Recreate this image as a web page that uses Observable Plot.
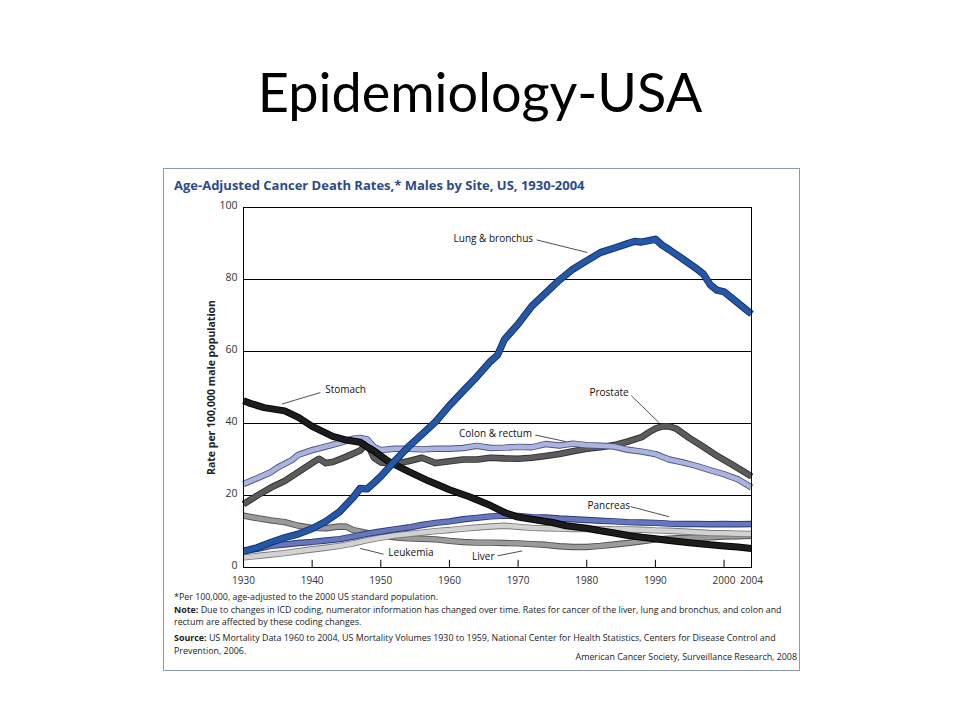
<!DOCTYPE html>
<html><head><meta charset="utf-8">
<script src="https://cdn.jsdelivr.net/npm/d3@7"></script>
<script src="https://cdn.jsdelivr.net/npm/@observablehq/plot@0.6"></script>
<style>
body{margin:0;background:#fff;width:960px;height:720px;position:relative;overflow:hidden;font-family:"Open Sans",sans-serif}
#slideTitle{position:absolute;left:0;width:960px;top:60px;text-align:center;font-family:Lato,sans-serif;font-size:54px;line-height:64px;color:#000}
#box{position:absolute;left:163px;top:168px;width:637px;height:503px;border:1px solid #8c9ab6;box-sizing:border-box}
#chartTitle{position:absolute;left:174px;top:176px;font-family:"Open Sans",sans-serif;font-weight:bold;font-size:13px;color:#2b4b8c;white-space:nowrap}
#chart{position:absolute;left:163px;top:197px}
#chart svg [aria-label="y-axis label"]{font-weight:bold;fill:#222}
.fn{position:absolute;left:174px;font-family:"Open Sans",sans-serif;font-size:8.9px;color:#222;white-space:nowrap;line-height:12px}
.fn b{font-weight:bold}
</style>
</head><body>
<div id="slideTitle">Epidemiology-USA</div>
<div id="box"></div>
<div id="chartTitle">Age-Adjusted Cancer Death Rates,* Males by Site, US, 1930-2004</div>
<div id="chart"></div>
<div class="fn" style="top:591px">*Per 100,000, age-adjusted to the 2000 US standard population.</div>
<div class="fn" style="top:604px"><b>Note:</b> Due to changes in ICD coding, numerator information has changed over time. Rates for cancer of the liver, lung and bronchus, and colon and</div>
<div class="fn" style="top:616px">rectum are affected by these coding changes.</div>
<div class="fn" style="top:632px"><b>Source:</b> US Mortality Data 1960 to 2004, US Mortality Volumes 1930 to 1959, National Center for Health Statistics, Centers for Disease Control and</div>
<div class="fn" style="top:645px">Prevention, 2006.</div>
<div class="fn" style="top:651px;left:auto;right:163px">American Cancer Society, Surveillance Research, 2008</div>
<script>
// ---- data ----
const xTicks = [1930, 1940, 1950, 1960, 1970, 1980, 1990, 2000, 2004];
const yTicks = [0, 20, 40, 60, 80, 100];
const yLabel = "Rate per 100,000 male population";

const lungYears = [1930,1932,1934,1936,1938,1940,1942,1944,1946,1947,1948,1949,1950,1952,1954,1956,1958,1960,1962,1964,1966,1967,1968,1970,1972,1974,1976,1978,1980,1982,1984,1986,1987,1988,1990,1991,1992,1994,1996,1997,1998,1999,2000,2002,2004];
const lungRates = [4.5,5.5,7.0,8.3,9.3,10.8,12.8,15.5,19.5,22.0,21.8,23.5,25.3,29.5,33.5,37.0,40.5,45.0,49.0,53.0,57.3,59.0,63.3,67.6,72.6,76.2,79.8,82.9,85.2,87.5,88.7,90.0,90.6,90.4,91.2,89.5,88.3,85.7,83.0,81.5,78.5,77.0,76.6,73.5,70.4];

const stomachYears = [1930,1931,1933,1936,1938,1940,1943,1945,1947,1948,1949,1951,1954,1957,1960,1963,1966,1968,1970,1972,1975,1977,1980,1982,1984,1986,1988,1990,1992,1995,1998,2000,2002,2004];
const stomachRates = [46.3,45.6,44.4,43.5,41.7,39.2,36.4,35.4,34.8,33.5,32.4,29.6,26.7,24.0,21.6,19.6,17.2,15.3,14.0,13.4,12.5,11.6,10.9,10.2,9.6,8.9,8.4,8.0,7.5,6.9,6.3,6.0,5.7,5.3];

const colonYears = [1930,1932,1934,1935,1937,1938,1940,1942,1944,1946,1947,1948,1949,1950,1952,1954,1956,1958,1960,1962,1964,1966,1968,1970,1972,1974,1976,1978,1980,1982,1984,1986,1988,1990,1992,1994,1996,1998,2000,2002,2004];
const colonRates = [23.2,24.8,26.5,27.8,29.8,31.3,32.6,33.6,34.6,35.8,36.0,35.6,33.5,32.6,33.0,33.0,32.8,33.0,33.0,33.2,33.8,33.2,33.3,33.5,33.4,34.3,33.9,34.4,34.0,33.8,33.6,32.7,32.2,31.5,30.0,29.2,28.2,27.0,25.9,24.5,22.2];

const prostateYears = [1930,1932,1934,1936,1938,1940,1941,1942,1943,1945,1947,1948,1949,1950,1952,1954,1956,1958,1960,1962,1964,1966,1968,1970,1972,1974,1976,1978,1980,1982,1984,1986,1988,1989,1990,1991,1992,1993,1995,1997,1999,2001,2003,2004];
const prostateRates = [17.6,20.0,22.2,24.0,26.5,29.0,30.2,29.0,29.3,30.8,32.5,34.5,30.5,29.2,28.9,29.5,30.5,29.0,29.5,30.0,30.0,30.5,30.3,30.2,30.5,31.0,31.5,32.3,33.0,33.4,34.0,35.0,36.2,37.5,38.6,39.2,39.2,38.6,35.9,33.5,31.0,28.8,26.5,25.3];

const pancreasYears = [1930,1932,1934,1936,1938,1940,1942,1944,1946,1948,1950,1952,1954,1956,1958,1960,1962,1964,1966,1968,1970,1972,1974,1976,1978,1980,1982,1984,1986,1988,1990,1992,1994,1996,1998,2000,2002,2004];
const pancreasRates = [4.6,5.2,6.0,6.4,6.8,7.1,7.5,7.9,8.6,9.4,10.0,10.6,11.1,11.8,12.4,12.8,13.4,13.8,14.2,14.4,14.3,14.0,13.9,13.6,13.4,13.2,13.0,12.8,12.6,12.5,12.4,12.2,12.1,12.1,12.0,12.1,12.0,12.1];

const leukemiaYears = [1930,1933,1936,1939,1942,1944,1946,1948,1950,1952,1954,1956,1958,1960,1962,1964,1966,1968,1970,1972,1974,1976,1978,1980,1982,1984,1986,1988,1990,1992,1994,1996,1998,2000,2002,2004];
const leukemiaRates = [2.8,3.4,4.0,4.8,5.5,6.0,6.7,7.6,8.3,8.9,9.3,9.7,10.1,10.4,10.8,11.1,11.4,11.6,11.3,11.0,10.9,10.8,10.7,10.7,10.7,10.6,10.6,10.5,10.3,10.2,10.0,9.8,9.6,9.5,9.4,9.3];

const liverYears = [1930,1932,1934,1936,1938,1940,1942,1944,1945,1946,1948,1950,1952,1954,1956,1958,1960,1962,1964,1966,1968,1970,1972,1974,1976,1978,1980,1982,1984,1986,1988,1990,1992,1994,1996,1998,2000,2002,2004];
const liverRates = [14.4,13.7,13.1,12.6,11.6,11.0,10.9,11.4,11.3,10.4,9.6,9.0,8.4,8.1,8.0,7.8,7.4,7.1,6.9,6.9,6.8,6.7,6.5,6.3,5.9,5.7,5.7,6.0,6.4,6.8,7.3,7.8,8.0,8.2,8.3,8.4,8.6,8.7,8.8];

// label anchors (data coordinates) and leader lines
const labelNames = ["Lung & bronchus","Stomach","Prostate","Colon & rectum","Pancreas","Leukemia","Liver"];
const labelX = [1960.6,1941.9,1980.4,1961.4,1980.1,1951.1,1963.3];
const labelY = [91.2,49.4,48.4,37.2,17.1,4.0,3.0];
const leaderX1 = [1972.7,1941.2,1986.5,1972.5,1986.4,1947.0,1967.0];
const leaderY1 = [91.0,48.6,47.7,36.8,16.9,5.3,3.25];
const leaderX2 = [1980.1,1935.6,1990.5,1976.9,1992.0,1950.4,1970.6];
const leaderY2 = [87.5,45.4,40.3,35.0,14.1,3.7,4.6];

// ---- build ----
const series = [
  {name:"Liver", years:liverYears, rates:liverRates, core:"#9b9b9b", edge:"#505050", w:4.6},
  {name:"Leukemia", years:leukemiaYears, rates:leukemiaRates, core:"#d2d2d2", edge:"#7a7a7a", w:4.6},
  {name:"Pancreas", years:pancreasYears, rates:pancreasRates, core:"#6677bd", edge:"#2c3877", w:4.6},
  {name:"Prostate", years:prostateYears, rates:prostateRates, core:"#5c5c5c", edge:"#2e2e2e", w:4.8},
  {name:"Colon & rectum", years:colonYears, rates:colonRates, core:"#aab4de", edge:"#4a5586", w:4.6},
  {name:"Stomach", years:stomachYears, rates:stomachRates, core:"#1c1c1c", edge:"#000", w:5.2},
  {name:"Lung & bronchus", years:lungYears, rates:lungRates, core:"#2457a6", edge:"#132e68", w:5.4}
];
const lineMarks = [];
for (const s of series) {
  const data = s.years.map((yr, i) => ({year: yr, rate: s.rates[i]}));
  lineMarks.push(Plot.line(data, {x:"year", y:"rate", stroke:s.edge, strokeWidth:s.w + 1.8, strokeLinejoin:"round", strokeLinecap:"butt"}));
  lineMarks.push(Plot.line(data, {x:"year", y:"rate", stroke:s.core, strokeWidth:s.w, strokeLinejoin:"round", strokeLinecap:"butt"}));
}
const labels = labelNames.map((n, i) => ({name:n, x:labelX[i], y:labelY[i], x1:leaderX1[i], y1:leaderY1[i], x2:leaderX2[i], y2:leaderY2[i]}));

const chart = Plot.plot({
  width: 638, height: 390,
  marginLeft: 80, marginRight: 50, marginTop: 10, marginBottom: 20,
  x: {domain:[1930, 2004]},
  y: {domain:[0, 100]},
  style: {fontFamily:"'Open Sans', sans-serif", fontSize:"10px", color:"#333", background:"transparent", overflow:"visible"},
  marks: [
    Plot.ruleY(yTicks.filter(d => d > 0), {stroke:"#000", strokeWidth:1}),
    Plot.axisY({ticks:yTicks, tickSize:0, tickPadding:6, dy:-1.5, fontSize:10.5, label:yLabel, labelAnchor:"center", labelArrow:"none", labelOffset:36}),
    Plot.axisX({ticks:xTicks, tickSize:0, tickPadding:9, tickFormat:"d", label:null}),
    Plot.ruleX(xTicks.filter(d => d > 1930 && d < 2004), {y1:0, y2:2, stroke:"#000", strokeWidth:1}),
    ...lineMarks,
    Plot.frame({stroke:"#000", strokeWidth:1}),
    Plot.link(labels, {x1:"x1", y1:"y1", x2:"x2", y2:"y2", stroke:"#222", strokeWidth:0.8}),
    Plot.text(labels, {x:"x", y:"y", text:"name", textAnchor:"start", fontSize:10, fill:"#111"})
  ]
});
document.getElementById("chart").appendChild(chart);
</script>
</body></html>
